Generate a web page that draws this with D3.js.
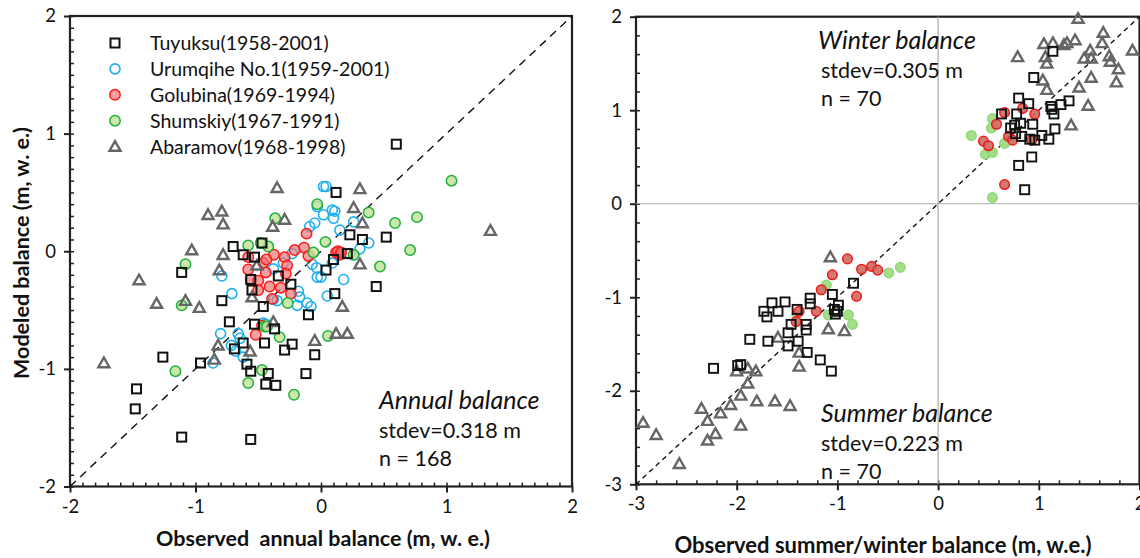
<!DOCTYPE html>
<html><head><meta charset="utf-8">
<script src="https://cdn.jsdelivr.net/npm/d3@7"></script>
<style>
html,body{margin:0;padding:0;background:#fff;}
svg{display:block;font-family:Lato,"Open Sans",sans-serif;}
</style></head>
<body>
<svg id="chart" width="1140" height="558"></svg>
<script>
// ---------- DATA ----------
const seriesNames = ["Tuyuksu(1958-2001)","Urumqihe No.1(1959-2001)","Golubina(1969-1994)","Shumskiy(1967-1991)","Abaramov(1968-1998)"];

const tuyuksuAnnual = [[0.60,0.91],[0.12,0.50],[0.23,0.14],[0.33,0.10],[0.52,0.12],[0.21,-0.02],[0.10,-0.07],[0.04,-0.16],[0.11,-0.36],[0.44,-0.30],[-0.70,0.04],[-0.62,-0.03],[-0.53,-0.05],[-0.47,0.07],[-0.34,-0.21],[-0.24,-0.28],[-0.55,-0.33],[-0.56,-0.24],[-0.79,-0.42],[-0.46,-0.47],[-0.10,-0.54],[-0.73,-0.60],[-0.53,-0.62],[-0.37,-0.66],[-0.05,-0.88],[-0.12,-1.04],[-0.23,-0.79],[-0.29,-0.84],[-0.36,-1.14],[-0.44,-1.13],[-0.42,-1.04],[-0.45,-0.78],[-0.62,-0.78],[-0.69,-0.83],[-0.59,-0.96],[-0.56,-1.02],[-0.96,-0.95],[-1.26,-0.90],[-1.47,-1.17],[-1.48,-1.34],[-1.11,-1.58],[-0.56,-1.60],[-1.11,-0.18]];
const urumqiheAnnual = [[0.02,0.55],[0.04,0.55],[-0.03,0.38],[0.02,0.31],[0.09,0.35],[0.11,0.34],[0.10,0.28],[-0.09,0.21],[-0.05,0.24],[0.26,0.25],[0.15,0.18],[0.38,0.07],[0.31,0.02],[0.23,-0.02],[0.26,-0.03],[0.09,-0.10],[-0.07,-0.11],[-0.035,-0.14],[-0.03,-0.22],[0.00,-0.22],[0.18,-0.24],[0.05,-0.38],[-0.23,-0.02],[-0.30,-0.10],[-0.38,-0.15],[-0.18,-0.34],[-0.17,-0.39],[-0.19,-0.46],[-0.11,-0.44],[-0.08,-0.47],[-0.35,-0.42],[-0.38,-0.41],[-0.79,-0.21],[-0.71,-0.36],[-0.80,-0.70],[-0.66,-0.70],[-0.645,-0.74],[-0.715,-0.80],[-0.68,-0.85],[-0.62,-0.90],[-0.86,-0.95],[-0.46,-0.61],[-0.44,-0.62]];
const golubinaAnnual = [[-0.115,0.15],[-0.135,0.03],[-0.21,0.01],[-0.29,-0.05],[-0.375,-0.03],[-0.46,-0.10],[-0.58,-0.05],[-0.58,-0.155],[-0.56,-0.24],[-0.50,-0.25],[-0.50,-0.33],[-0.44,-0.18],[-0.41,-0.30],[-0.32,-0.31],[-0.27,-0.12],[-0.28,-0.19],[-0.24,-0.36],[-0.39,-0.405],[-0.10,-0.04],[0.12,-0.01],[0.15,-0.03],[0.135,0.0],[0.16,-0.01],[-0.52,-0.71],[-0.47,-0.63],[-0.435,-0.07]];
const shumskiyAnnual = [[1.04,0.60],[0.765,0.29],[0.59,0.24],[0.38,0.33],[0.71,0.01],[0.47,-0.13],[0.26,-0.03],[0.035,0.08],[-0.06,-0.01],[-0.03,0.40],[-0.365,0.28],[-0.42,0.04],[-0.48,0.07],[-0.58,0.05],[-1.08,-0.11],[-1.11,-0.46],[-1.16,-1.02],[-0.58,-1.12],[-0.47,-1.01],[-0.215,-1.22],[0.056,-0.72],[-0.33,-0.73],[-0.45,-0.64],[-0.43,-0.64],[-0.265,-0.44]];
const abaramovAnnual = [[1.35,0.175],[0.31,0.53],[0.26,0.37],[0.33,0.24],[0.31,-0.11],[0.17,-0.47],[0.12,-0.70],[0.21,-0.70],[-0.05,-0.76],[-0.35,0.54],[-0.29,0.27],[-0.385,0.21],[-0.79,0.34],[-0.90,0.31],[-0.78,0.23],[-1.03,0.01],[-0.78,-0.03],[-0.81,-0.16],[-1.45,-0.245],[-1.31,-0.445],[-1.08,-0.42],[-0.97,-0.48],[-0.55,-0.39],[-0.51,-0.12],[-0.38,-0.60],[-0.565,-0.85],[-0.82,-0.80],[-0.85,-0.92],[-1.73,-0.95]];

const tuyuksuWinter = [[1.14,1.63],[0.95,1.35],[0.80,1.13],[0.90,1.07],[1.12,1.04],[1.22,1.06],[1.30,1.10],[1.15,0.96],[0.63,0.96],[0.78,0.96],[0.82,0.86],[0.94,0.85],[0.72,0.81],[1.16,0.80],[0.77,0.75],[0.83,0.72],[0.91,0.69],[0.96,0.68],[1.03,0.73],[1.10,0.69],[0.80,0.41],[0.93,0.50],[0.86,0.15],[1.13,1.01],[0.76,0.84]];
const golubinaWinter = [[0.66,0.975],[0.84,1.02],[0.96,0.96],[0.58,0.85],[0.45,0.67],[0.50,0.62],[0.70,0.72],[0.74,0.68],[0.93,0.68],[0.66,0.205]];
const shumskiyWinter = [[0.54,0.91],[0.53,0.81],[0.33,0.73],[0.66,0.645],[0.47,0.53],[0.54,0.55],[0.54,0.065]];
const abaramovWinter = [[1.39,1.98],[1.64,1.83],[1.05,1.71],[1.14,1.72],[1.25,1.70],[1.28,1.72],[1.36,1.75],[1.63,1.72],[1.51,1.64],[1.45,1.555],[1.066,1.57],[1.08,1.50],[0.79,1.57],[1.93,1.64],[1.70,1.58],[1.71,1.52],[1.79,1.44],[1.52,1.555],[1.52,1.35],[1.40,1.245],[1.77,1.30],[1.04,1.32],[1.08,1.22],[1.49,1.05],[1.32,0.84]];

const tuyuksuSummer = [[-2.23,-1.76],[-1.99,-1.73],[-1.96,-1.72],[-1.87,-1.45],[-1.69,-1.47],[-1.73,-1.15],[-1.70,-1.21],[-1.65,-1.06],[-1.59,-1.15],[-1.52,-1.05],[-1.49,-1.38],[-1.46,-1.29],[-1.49,-1.52],[-1.39,-1.47],[-1.40,-1.13],[-1.31,-1.29],[-1.31,-1.35],[-1.30,-1.59],[-1.27,-1.01],[-1.27,-1.07],[-1.17,-1.67],[-1.06,-1.79],[-1.05,-0.97],[-0.99,-1.085],[-1.00,-1.15],[-1.03,-1.13],[-1.02,-1.18],[-0.84,-0.85]];
const golubinaSummer = [[-0.90,-0.59],[-1.05,-0.76],[-0.76,-0.70],[-0.66,-0.67],[-0.60,-0.71],[-1.16,-0.92],[-0.81,-0.99],[-1.21,-1.15],[-1.38,-1.15],[-1.41,-1.26]];
const shumskiySummer = [[-0.375,-0.68],[-0.49,-0.74],[-1.11,-0.87],[-1.09,-1.19],[-1.40,-1.18],[-0.89,-1.19],[-0.85,-1.29]];
const abaramovSummer = [[-1.07,-0.57],[-1.09,-1.34],[-0.93,-1.36],[-1.59,-1.43],[-1.38,-1.59],[-1.38,-1.74],[-2.00,-1.79],[-1.89,-1.76],[-1.81,-1.79],[-1.89,-1.92],[-1.96,-2.05],[-1.80,-2.11],[-1.62,-2.11],[-1.47,-2.16],[-2.06,-2.15],[-2.16,-2.24],[-2.35,-2.19],[-2.29,-2.32],[-2.21,-2.46],[-2.29,-2.53],[-1.96,-2.37],[-2.80,-2.47],[-2.93,-2.34],[-2.57,-2.78]];

const leftTicks = [-2,-1,0,1,2];
const rightXTicks = [-3,-2,-1,0,1,2];
const rightYTicks = [-3,-2,-1,0,1,2];

// ---------- DRAW ----------
const svg = d3.select("#chart");
const AX = "#222";
const fmt = d => String(d);

function panel(cfg){
  const g = svg.append("g");
  const x = d3.scaleLinear().domain(cfg.xd).range([cfg.l, cfg.r]);
  const y = d3.scaleLinear().domain(cfg.yd).range([cfg.b, cfg.t]);
  const mx = d3.range(cfg.xd[0], cfg.xd[1]+1e-9, cfg.minor);
  const my = d3.range(cfg.yd[0], cfg.yd[1]+1e-9, cfg.minor);
  g.append("g").attr("transform",`translate(0,${cfg.b})`)
    .call(d3.axisBottom(x).tickValues(mx).tickSize(-4).tickFormat(""))
    .call(s=>{s.select(".domain").remove(); s.selectAll("line").attr("stroke",AX).attr("stroke-width",1.5);});
  g.append("g").attr("transform",`translate(${cfg.l},0)`)
    .call(d3.axisLeft(y).tickValues(my).tickSize(-4).tickFormat(""))
    .call(s=>{s.select(".domain").remove(); s.selectAll("line").attr("stroke",AX).attr("stroke-width",1.5);});
  g.append("g").attr("transform",`translate(0,${cfg.b})`)
    .call(d3.axisBottom(x).tickValues(cfg.xt).tickSize(6).tickPadding(7).tickFormat(fmt))
    .call(s=>{s.select(".domain").remove(); s.selectAll("line").attr("stroke",AX).attr("stroke-width",2);
      s.selectAll("text").attr("fill","#111").style("font-size","18.5px").style("font-family","Lato");});
  g.append("g").attr("transform",`translate(${cfg.l},0)`)
    .call(d3.axisLeft(y).tickValues(cfg.yt).tickSize(6).tickPadding(8).tickFormat(fmt))
    .call(s=>{s.select(".domain").remove(); s.selectAll("line").attr("stroke",AX).attr("stroke-width",2);
      s.selectAll("text").attr("fill","#111").style("font-size","18.5px").style("font-family","Lato");});
  g.append("rect").attr("x",cfg.l).attr("y",cfg.t).attr("width",cfg.r-cfg.l).attr("height",cfg.b-cfg.t)
    .attr("fill","none").attr("stroke",AX).attr("stroke-width",2.2);
  return {g,x,y};
}

function drawSeries(p, data, kind, style){
  const sel = p.g.append("g");
  data.forEach(d=>{
    const cx = p.x(d[0]), cy = p.y(d[1]);
    if(kind==="square"){
      sel.append("rect").attr("x",cx-style.s/2).attr("y",cy-style.s/2).attr("width",style.s).attr("height",style.s)
        .attr("fill",style.fill).attr("stroke",style.stroke).attr("stroke-width",style.sw);
    } else if(kind==="circle"){
      sel.append("circle").attr("cx",cx).attr("cy",cy).attr("r",style.r)
        .attr("fill",style.fill).attr("stroke",style.stroke).attr("stroke-width",style.sw);
    } else {
      const h = style.s;
      sel.append("path").attr("d",`M${cx},${cy-h*0.55}L${cx+h*0.55},${cy+h*0.42}L${cx-h*0.55},${cy+h*0.42}Z`)
        .attr("fill",style.fill).attr("stroke",style.stroke).attr("stroke-width",style.sw).attr("stroke-linejoin","miter");
    }
  });
}

const stTuy = {s:9, fill:"none", stroke:"#111", sw:2};
const stUru = {r:5, fill:"none", stroke:"#1fb0ee", sw:1.6};
const stGol = {r:5.2, fill:"rgba(240,110,110,0.65)", stroke:"#ff1a1a", sw:1.5};
const stShu = {r:5.2, fill:"rgba(190,225,150,0.8)", stroke:"#22b03a", sw:1.5};
const stAba = {s:10, fill:"none", stroke:"#666", sw:2.4};

// ---- left panel ----
const P1 = panel({l:70, r:572, t:16, b:486.5, xd:[-2,2], yd:[-2,2], xt:leftTicks, yt:leftTicks, minor:0.1});
P1.g.append("line").attr("x1",P1.x(-2)).attr("y1",P1.y(-2)).attr("x2",P1.x(2)).attr("y2",P1.y(2))
  .attr("stroke","#111").attr("stroke-width",1.4).attr("stroke-dasharray","8,6");
drawSeries(P1, urumqiheAnnual, "circle", stUru);
drawSeries(P1, golubinaAnnual, "circle", stGol);
drawSeries(P1, shumskiyAnnual, "circle", stShu);
drawSeries(P1, abaramovAnnual, "tri", stAba);
drawSeries(P1, tuyuksuAnnual, "square", stTuy);

// legend
const leg = svg.append("g");
const legStyles = [["square",stTuy],["circle",stUru],["circle",stGol],["circle",stShu],["tri",stAba]];
seriesNames.forEach((n,i)=>{
  const yy = 43 + i*25.9;
  const lp = {g:leg, x:d=>d, y:d=>d};
  drawSeries(lp, [[115,yy]], legStyles[i][0], legStyles[i][1]);
  leg.append("text").attr("x",150).attr("y",yy).attr("dy","0.36em").text(n)
    .style("font-size","19.5px").attr("fill","#111");
});

// annotations left
const ann1 = svg.append("g").attr("fill","#111");
ann1.append("text").attr("x",379).attr("y",400).attr("dy","0.35em").text("Annual balance").style("font-size","25px").style("font-style","italic");
ann1.append("text").attr("x",379).attr("y",430).attr("dy","0.35em").text("stdev=0.318 m").style("font-size","21.5px");
ann1.append("text").attr("x",379).attr("y",458).attr("dy","0.35em").text("n = 168").style("font-size","21.5px");

// axis titles left
svg.append("text").attr("transform","translate(21,253) rotate(-90)").attr("text-anchor","middle").attr("dy","0.35em")
  .text("Modeled balance (m, w. e.)").style("font-size","21.5px").style("font-weight","bold").attr("fill","#111");
svg.append("text").attr("x",323).attr("y",538).attr("text-anchor","middle").attr("dy","0.35em")
  .text("Observed\u00a0\u00a0annual balance (m, w. e.)").style("font-size","21.5px").style("font-weight","bold").attr("fill","#111");

// ---- right panel ----
const P2 = panel({l:636, r:1139.5, t:16.7, b:484.3, xd:[-3,2], yd:[-3,2], xt:rightXTicks, yt:rightYTicks, minor:0.2});
P2.g.append("line").attr("x1",P2.x(0)).attr("y1",P2.y(2)).attr("x2",P2.x(0)).attr("y2",P2.y(-3)).attr("stroke","#aaa").attr("stroke-width",1.2);
P2.g.append("line").attr("x1",P2.x(-3)).attr("y1",P2.y(0)).attr("x2",P2.x(2)).attr("y2",P2.y(0)).attr("stroke","#aaa").attr("stroke-width",1.2);
P2.g.append("line").attr("x1",P2.x(-3)).attr("y1",P2.y(-3)).attr("x2",P2.x(2)).attr("y2",P2.y(2))
  .attr("stroke","#111").attr("stroke-width",1.4).attr("stroke-dasharray","5,4");
const stTuy2 = {s:9, fill:"none", stroke:"#111", sw:1.9};
const stGol2 = {r:4.8, fill:"rgba(205,105,95,0.9)", stroke:"#f01818", sw:1.5};
const stShu2 = {r:4.8, fill:"rgba(160,220,130,0.95)", stroke:"#8ed87c", sw:1.5};
const stAba2 = {s:10, fill:"none", stroke:"#666", sw:2.4};
drawSeries(P2, shumskiyWinter, "circle", stShu2);
drawSeries(P2, golubinaWinter, "circle", stGol2);
drawSeries(P2, abaramovWinter, "tri", stAba2);
drawSeries(P2, tuyuksuWinter, "square", stTuy2);
drawSeries(P2, shumskiySummer, "circle", stShu2);
drawSeries(P2, golubinaSummer, "circle", stGol2);
drawSeries(P2, abaramovSummer, "tri", stAba2);
drawSeries(P2, tuyuksuSummer, "square", stTuy2);

const ann2 = svg.append("g").attr("fill","#111");
ann2.append("text").attr("x",818).attr("y",40).attr("dy","0.35em").text("Winter balance").style("font-size","25px").style("font-style","italic");
ann2.append("text").attr("x",821).attr("y",70).attr("dy","0.35em").text("stdev=0.305 m").style("font-size","21.5px");
ann2.append("text").attr("x",821).attr("y",98).attr("dy","0.35em").text("n = 70").style("font-size","21.5px");
ann2.append("text").attr("x",821).attr("y",413).attr("dy","0.35em").text("Summer balance").style("font-size","25px").style("font-style","italic");
ann2.append("text").attr("x",821).attr("y",443).attr("dy","0.35em").text("stdev=0.223 m").style("font-size","21.5px");
ann2.append("text").attr("x",821).attr("y",471).attr("dy","0.35em").text("n = 70").style("font-size","21.5px");

svg.append("text").attr("x",883).attr("y",545).attr("text-anchor","middle").attr("dy","0.35em")
  .text("Observed summer/winter balance (m, w.e.)").style("font-size","22px").style("font-weight","bold").attr("fill","#111");
</script>
</body></html>
